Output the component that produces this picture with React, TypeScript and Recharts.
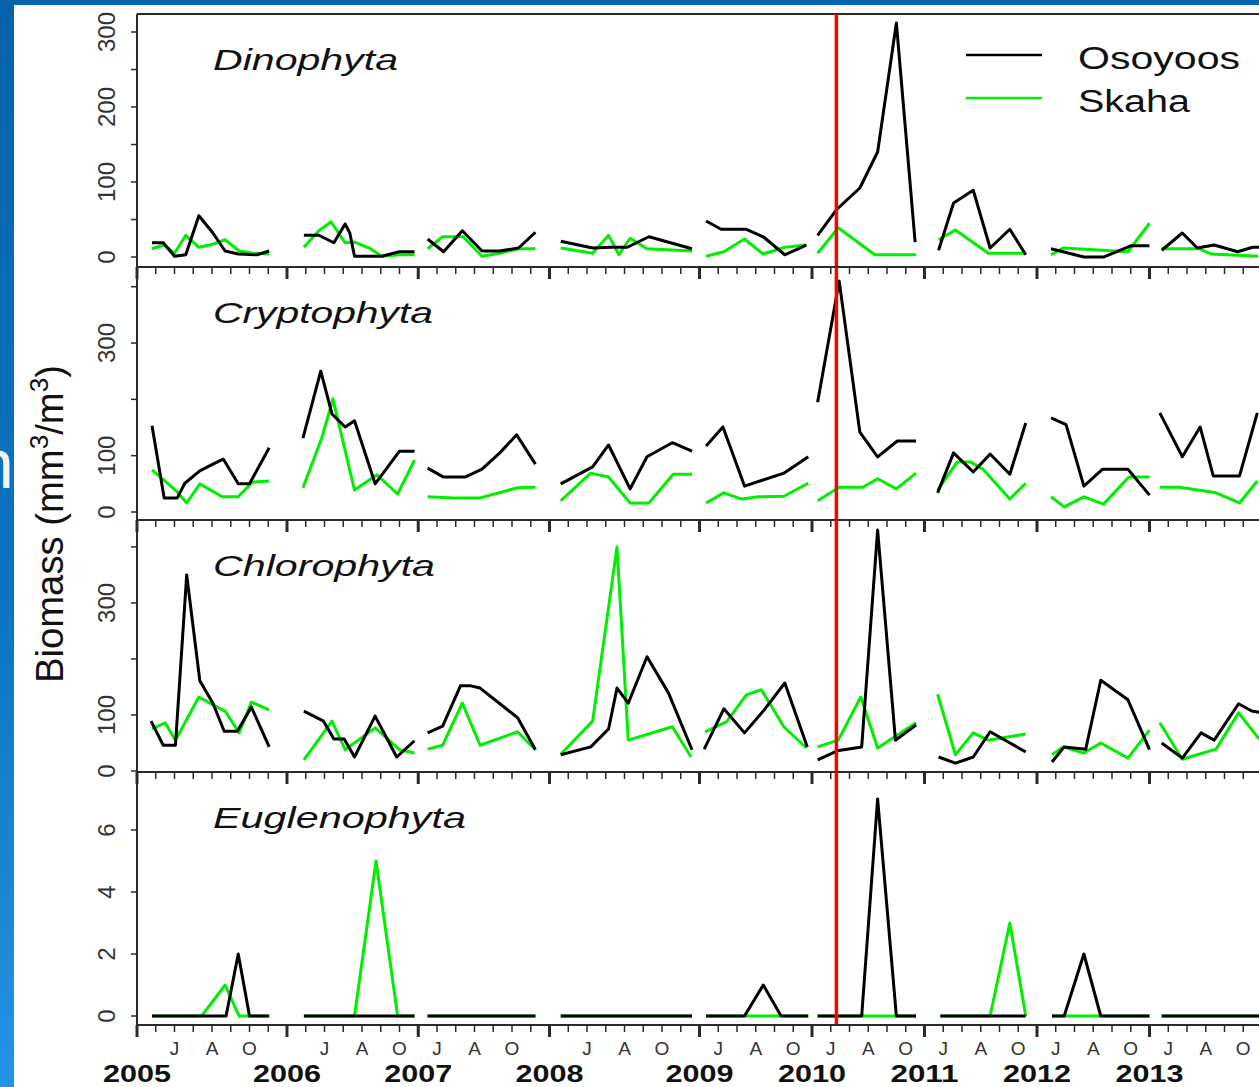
import React from "react";
import { LineChart, Line, XAxis, YAxis, ReferenceLine } from "recharts";

type Pt = [number, number];

// ---- time axis: each year block runs from its first to its last month ----
const YEARS = [2005, 2006, 2007, 2008, 2009, 2010, 2011, 2012, 2013];
const FIRST_MONTH = [4, 4, 5, 4, 5, 5, 5, 5, 5];
const LAST_MONTH = [12, 11, 12, 12, 11, 11, 11, 11, 11];
const MONTH_LABELS: Record<number, string> = { 6: "J", 8: "A", 10: "O" };

const LAKES = ["Osoyoos", "Skaha"];
const LAKE_COLORS = ["#000000", "#00ee00"];

// red line: start of the 2010 manipulation (year, fractional month)
const EVENT = { year: 2010, month: 6.3 };

// ---- biomass (mm3/m3), one list of [month, value] per year ----
const dinoOsoyoos: Pt[][] = [
  [[4.8, 19], [5.4, 19], [6.0, 1], [6.6, 3], [7.3, 55], [8.05, 32], [8.7, 8], [9.4, 4], [10.4, 3], [11.05, 8]],
  [[4.9, 29], [5.7, 29], [6.5, 19], [7.1, 44], [7.35, 32], [7.6, 1], [8.4, 1], [9.05, 1], [10.0, 7], [10.8, 7]],
  [[5.5, 24], [6.35, 7], [7.35, 35], [8.4, 8], [9.35, 8], [10.35, 12], [11.25, 33]],
  [[4.6, 21], [6.3, 12], [7.25, 13], [8.15, 13], [9.3, 27], [10.45, 19], [11.6, 11]],
  [[5.35, 48], [6.15, 37], [7.5, 37], [8.4, 27], [9.55, 3], [10.7, 16]],
  [[5.3, 29], [6.3, 63], [7.55, 92], [8.5, 140], [9.5, 312], [10.5, 20]],
  [[5.75, 9], [6.55, 72], [7.6, 89], [8.5, 12], [9.55, 37], [10.4, 3]],
  [[5.75, 11], [7.5, 0], [8.55, 0], [10.0, 15], [11.0, 15]],
  [[5.65, 9], [6.75, 32], [7.55, 12], [8.45, 16], [9.7, 7], [10.5, 13], [11.0, 13]],
];
const dinoSkaha: Pt[][] = [
  [[4.8, 11], [5.45, 16], [6.0, 5], [6.6, 29], [7.3, 13], [8.05, 17], [8.7, 23], [9.45, 8], [10.2, 5], [11.05, 4]],
  [[4.9, 13], [5.7, 35], [6.35, 47], [7.1, 19], [7.6, 20], [8.4, 12], [9.05, 1], [10.0, 3], [10.8, 3]],
  [[5.5, 11], [6.3, 27], [7.4, 27], [8.4, 1], [9.35, 5], [10.35, 11], [11.25, 11]],
  [[4.6, 12], [6.3, 5], [7.15, 29], [7.7, 3], [8.3, 25], [9.2, 11], [11.6, 8]],
  [[5.35, 1], [6.3, 7], [7.4, 24], [8.4, 4], [9.55, 13], [10.7, 16]],
  [[5.3, 5], [6.4, 39], [8.35, 3], [10.55, 3]],
  [[5.75, 23], [6.65, 36], [8.4, 5], [10.4, 5]],
  [[5.75, 3], [6.4, 12], [9.85, 7], [11.0, 45]],
  [[5.65, 11], [7.65, 11], [8.3, 4], [10.8, 1]],
];

const cryptoOsoyoos: Pt[][] = [
  [[4.8, 153], [5.45, 25], [6.15, 25], [6.55, 51], [7.35, 73], [8.05, 85], [8.6, 94], [9.4, 50], [10.0, 50], [11.05, 114]],
  [[4.85, 131], [5.8, 250], [6.4, 174], [7.1, 151], [7.6, 162], [8.7, 50], [10.0, 108], [10.8, 108]],
  [[5.5, 78], [6.35, 62], [7.5, 62], [8.4, 76], [9.35, 105], [10.25, 137], [11.25, 85]],
  [[4.6, 50], [6.3, 80], [7.15, 119], [8.3, 41], [9.2, 98], [10.55, 123], [11.6, 108]],
  [[5.35, 117], [6.25, 151], [7.4, 46], [9.5, 69], [10.8, 98]],
  [[5.3, 195], [6.45, 410], [7.55, 142], [8.5, 98], [9.55, 126], [10.55, 126]],
  [[5.7, 34], [6.55, 105], [7.6, 71], [8.5, 103], [9.55, 67], [10.4, 158]],
  [[5.75, 167], [6.55, 155], [7.5, 46], [8.5, 76], [9.85, 76], [11.0, 30]],
  [[5.55, 176], [6.75, 98], [7.7, 151], [8.4, 64], [9.8, 64], [10.75, 176]],
];
const cryptoSkaha: Pt[][] = [
  [[4.8, 75], [6.05, 39], [6.65, 16], [7.35, 50], [8.55, 27], [9.4, 27], [10.15, 53], [11.05, 55]],
  [[4.85, 43], [5.85, 131], [6.45, 201], [7.6, 39], [8.8, 66], [9.9, 32], [10.8, 92]],
  [[5.5, 27], [6.85, 25], [8.3, 25], [10.3, 43], [11.25, 44]],
  [[4.6, 20], [6.2, 69], [7.15, 62], [8.3, 16], [9.3, 16], [10.6, 67], [11.6, 67]],
  [[5.35, 16], [6.3, 34], [7.25, 23], [8.15, 27], [9.5, 28], [10.8, 51]],
  [[5.3, 20], [6.45, 44], [7.7, 44], [8.5, 59], [9.5, 41], [10.55, 69]],
  [[5.7, 39], [6.75, 89], [7.45, 89], [8.15, 75], [9.55, 23], [10.4, 51]],
  [[5.75, 27], [6.45, 9], [7.5, 27], [8.55, 14], [9.9, 62], [11.0, 62]],
  [[5.55, 44], [6.6, 44], [8.55, 34], [9.8, 16], [10.75, 55]],
];

const chloroOsoyoos: Pt[][] = [
  [[4.75, 89], [5.4, 46], [6.05, 46], [6.65, 350], [7.35, 161], [8.05, 121], [8.65, 71], [9.35, 71], [10.1, 114], [11.05, 43]],
  [[4.9, 107], [5.95, 89], [6.5, 57], [7.05, 57], [7.6, 25], [8.7, 98], [9.85, 25], [10.8, 54]],
  [[5.5, 68], [6.3, 80], [7.25, 152], [7.8, 152], [8.3, 148], [10.3, 95], [11.25, 38]],
  [[4.6, 29], [6.2, 43], [7.15, 75], [7.6, 148], [8.2, 121], [9.2, 204], [10.35, 139], [11.6, 38]],
  [[5.25, 39], [6.3, 111], [7.4, 68], [8.45, 109], [9.55, 157], [10.75, 43]],
  [[5.3, 20], [6.35, 36], [7.65, 43], [8.5, 430], [9.45, 55], [10.55, 82]],
  [[5.75, 25], [6.65, 14], [7.6, 25], [8.5, 70], [10.4, 34]],
  [[5.8, 16], [6.45, 43], [7.6, 39], [8.4, 162], [9.85, 127], [11.0, 38]],
  [[5.65, 50], [6.75, 23], [7.75, 68], [8.45, 55], [9.75, 120], [10.45, 107], [11.0, 104]],
];
const chloroSkaha: Pt[][] = [
  [[4.8, 75], [5.5, 86], [6.05, 55], [7.3, 132], [8.05, 118], [8.7, 107], [9.45, 68], [10.1, 123], [11.05, 109]],
  [[4.9, 20], [6.4, 89], [7.1, 38], [8.7, 77], [10.0, 38], [10.8, 32]],
  [[5.5, 39], [6.3, 46], [7.35, 121], [8.3, 46], [10.3, 70], [11.25, 38]],
  [[4.6, 30], [6.3, 89], [7.6, 400], [8.2, 55], [10.55, 79], [11.55, 25]],
  [[5.3, 70], [6.45, 88], [7.5, 136], [8.3, 145], [9.5, 79], [10.7, 41]],
  [[5.3, 43], [6.4, 55], [7.6, 132], [8.5, 41], [10.55, 86]],
  [[5.7, 137], [6.65, 29], [7.6, 68], [8.4, 55], [10.4, 66]],
  [[5.8, 29], [6.4, 43], [7.5, 32], [8.4, 50], [9.85, 23], [11.0, 73]],
  [[5.55, 86], [6.75, 21], [8.55, 39], [9.75, 104], [10.85, 57]],
];

const eugOsoyoos: Pt[][] = [
  [[4.8, 0], [8.75, 0], [9.4, 2], [10.0, 0], [11.05, 0]],
  [[4.9, 0], [10.8, 0]],
  [[5.5, 0], [11.25, 0]],
  [[4.6, 0], [11.6, 0]],
  [[5.35, 0], [7.4, 0], [8.4, 1], [9.35, 0], [10.8, 0]],
  [[5.3, 0], [7.65, 0], [8.5, 7], [9.5, 0], [10.55, 0]],
  [[5.85, 0], [10.4, 0]],
  [[5.8, 0], [6.45, 0], [7.5, 2], [8.4, 0], [11.0, 0]],
  [[5.65, 0], [11.0, 0]],
];
const eugSkaha: Pt[][] = [
  [[4.8, 0], [7.45, 0], [8.7, 1], [9.45, 0], [10.0, 0], [11.05, 0]],
  [[4.9, 0], [7.6, 0], [8.75, 5], [9.9, 0], [10.8, 0]],
  [[5.5, 0], [11.25, 0]],
  [[4.6, 0], [11.6, 0]],
  [[5.35, 0], [10.8, 0]],
  [[5.3, 0], [10.55, 0]],
  [[5.85, 0], [8.5, 0], [9.55, 3], [10.4, 0]],
  [[5.8, 0], [11.0, 0]],
  [[5.65, 0], [11.0, 0]],
];

// y tick marks and which of them carry a label
const dinoTicks = [0, 50, 100, 150, 200, 250, 300];
const dinoLabels = [0, 100, 200, 300];
const cryptoTicks = [0, 100, 200, 300, 400];
const cryptoLabels = [0, 100, 300];
const chloroTicks = [0, 100, 200, 300, 400];
const chloroLabels = [0, 100, 300];
const eugTicks = [0, 2, 4, 6];
const eugLabels = [0, 2, 4, 6];

// ---- layout ----
const FONT = "'Liberation Sans', Arial, Helvetica, sans-serif";
const AXIS = "#2a2a2a";
const CHART_W = 1300;
const PLOT_LEFT = 137;
const PLOT_RIGHT = 1262;

const OFFSETS: number[] = [];
YEARS.forEach((_, i) => {
  OFFSETS.push(i === 0 ? 0 : OFFSETS[i - 1] + LAST_MONTH[i - 1] - FIRST_MONTH[i - 1]);
});
const X_END = OFFSETS[OFFSETS.length - 1] + LAST_MONTH[YEARS.length - 1] - FIRST_MONTH[YEARS.length - 1];
const X_TICKS = Array.from({ length: X_END + 1 }, (_, i) => i);

const toT = (yi: number, month: number) => OFFSETS[yi] + month - FIRST_MONTH[yi];
const EVENT_T = toT(YEARS.indexOf(EVENT.year), EVENT.month);

function toSeries(segs: Pt[][]) {
  const out: { t: number; v: number | null }[] = [];
  segs.forEach((seg, i) => {
    seg.forEach(([m, v]) => out.push({ t: toT(i, m), v }));
    out.push({ t: toT(i, seg[seg.length - 1][0]) + 0.01, v: null });
  });
  return out;
}

const PANELS = [
  { name: "Dinophyta", series: [dinoOsoyoos, dinoSkaha], ticks: dinoTicks, labels: dinoLabels, domain: [-13.3, 324], top: 14, height: 253, titleW: 185 },
  { name: "Cryptophyta", series: [cryptoOsoyoos, cryptoSkaha], ticks: cryptoTicks, labels: cryptoLabels, domain: [-14.2, 435], top: 267, height: 253, titleW: 220 },
  { name: "Chlorophyta", series: [chloroOsoyoos, chloroSkaha], ticks: chloroTicks, labels: chloroLabels, domain: [-1.8, 448], top: 520, height: 252, titleW: 222 },
  { name: "Euglenophyta", series: [eugOsoyoos, eugSkaha], ticks: eugTicks, labels: eugLabels, domain: [-0.29, 7.87], top: 772, height: 253, titleW: 253 },
];

function MonthTick(props: any) {
  const { x, y, payload, showLabels } = props;
  const t = payload.value as number;
  const yearStart = OFFSETS.indexOf(t);
  const big = yearStart >= 0 || t === X_END;
  let yi = -1;
  OFFSETS.forEach((o, k) => {
    const next = k + 1 < OFFSETS.length ? OFFSETS[k + 1] : X_END;
    if (t >= o && t < next) yi = k;
  });
  const month = yi >= 0 ? FIRST_MONTH[yi] + t - OFFSETS[yi] : 0;
  const mLabel = MONTH_LABELS[month];
  return (
    <g>
      <line x1={x} x2={x} y1={y} y2={y + (big ? 12 : 7)} stroke={AXIS} strokeWidth={big ? 3 : 1.5} />
      {showLabels && mLabel && (
        <text x={x} y={y + 30} textAnchor="middle" fontSize={19} fill="#333" fontFamily={FONT}>
          {mLabel}
        </text>
      )}
      {showLabels && yearStart >= 0 && (
        <text x={x} y={y + 57} textAnchor="middle" fontSize={24} fontWeight="bold" fill="#111" fontFamily={FONT}
          textLength={68} lengthAdjust="spacingAndGlyphs">
          {YEARS[yearStart]}
        </text>
      )}
    </g>
  );
}

function ValueTick(props: any) {
  const { x, y, payload, labels } = props;
  const v = payload.value as number;
  const lx = x - 22;
  return (
    <g>
      <line x1={x - 6} x2={x} y1={y} y2={y} stroke={AXIS} strokeWidth={1.5} />
      {labels.includes(v) && (
        <text x={lx} y={y} transform={`rotate(-90 ${lx} ${y})`} textAnchor="middle" fontSize={24} fill="#333" fontFamily={FONT}>
          {v}
        </text>
      )}
    </g>
  );
}

function Panel({ p, bottom }: { p: (typeof PANELS)[number]; bottom: boolean }) {
  const axisH = bottom ? 62 : 14;
  const h = 2 + p.height + axisH;
  const [oso, ska] = p.series;
  return (
    <div style={{ position: "absolute", left: 0, top: p.top - 2 }}>
      <LineChart width={CHART_W} height={h} margin={{ top: 2, right: CHART_W - PLOT_RIGHT, bottom: 0, left: 0 }}>
        <XAxis
          type="number"
          dataKey="t"
          domain={[0, X_END]}
          allowDataOverflow
          ticks={X_TICKS}
          interval={0}
          height={axisH}
          tickSize={0}
          tickMargin={0}
          tickLine={false}
          axisLine={{ stroke: AXIS, strokeWidth: 2 }}
          tick={(tp: any) => <MonthTick {...tp} showLabels={bottom} />}
        />
        <YAxis
          type="number"
          domain={p.domain}
          allowDataOverflow
          ticks={p.ticks}
          interval={0}
          width={PLOT_LEFT}
          tickSize={0}
          tickMargin={0}
          tickLine={false}
          axisLine={{ stroke: AXIS, strokeWidth: 2 }}
          tick={(tp: any) => <ValueTick {...tp} labels={p.labels} />}
        />
        <ReferenceLine y={p.domain[1]} stroke={AXIS} strokeWidth={2} />
        <Line data={toSeries(ska)} dataKey="v" name={LAKES[1]} type="linear" stroke={LAKE_COLORS[1]} strokeWidth={3}
          strokeLinejoin="round" dot={false} activeDot={false} isAnimationActive={false} />
        <Line data={toSeries(oso)} dataKey="v" name={LAKES[0]} type="linear" stroke={LAKE_COLORS[0]} strokeWidth={3}
          strokeLinejoin="round" dot={false} activeDot={false} isAnimationActive={false} />
        <ReferenceLine x={EVENT_T} stroke="#ff0000" strokeWidth={3.5} />
      </LineChart>
    </div>
  );
}

export default function App() {
  return (
    <div style={{ position: "fixed", left: 0, top: 0, width: 1259, height: 1087, overflow: "hidden", background: "#fff" }}>
      <div style={{ position: "absolute", left: 0, top: 0, width: 1259, height: 5, background: "#0566ad" }} />
      <div style={{ position: "absolute", left: 0, top: 0, width: 14, height: 1087, background: "linear-gradient(#0563aa, #0a74c2 55%, #2793e4)" }} />
      {PANELS.map((p, i) => (
        <Panel key={p.name} p={p} bottom={i === PANELS.length - 1} />
      ))}
      <svg width={1259} height={1087} style={{ position: "absolute", left: 0, top: 0, pointerEvents: "none" }}>
        {PANELS.map((p) => (
          <text key={p.name} x={213} y={p.top + 56} fontSize={30} fontStyle="italic" fill="#111" fontFamily={FONT}
            textLength={p.titleW} lengthAdjust="spacingAndGlyphs">
            {p.name}
          </text>
        ))}
        {LAKES.map((lake, i) => (
          <g key={lake}>
            <line x1={966} x2={1042} y1={55 + i * 43} y2={55 + i * 43} stroke={LAKE_COLORS[i]} strokeWidth={2.5} />
            <text x={1078} y={69 + i * 43} fontSize={31} fill="#111" fontFamily={FONT}
              textLength={i === 0 ? 162 : 112} lengthAdjust="spacingAndGlyphs">
              {lake}
            </text>
          </g>
        ))}
        <text x={63} y={683} transform="rotate(-90 63 683)" fontSize={38} fill="#111" fontFamily={FONT}
          textLength={318} lengthAdjust="spacingAndGlyphs">
          Biomass (mm
          <tspan dy={-15} fontSize={26}>3</tspan>
          <tspan dy={15}>/m</tspan>
          <tspan dy={-15} fontSize={26}>3</tspan>
          <tspan dy={15}>)</tspan>
        </text>
        <text x={-25} y={488} fontSize={70} fill="#eef3f8" fontFamily={FONT}>n</text>
      </svg>
    </div>
  );
}
